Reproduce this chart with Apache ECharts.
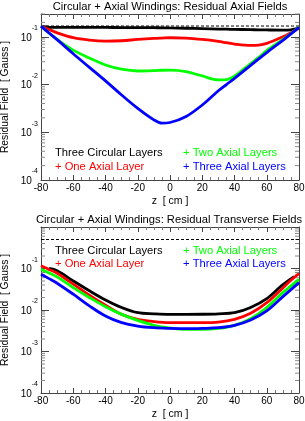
<!DOCTYPE html>
<html><head><meta charset="utf-8">
<script src="https://cdn.jsdelivr.net/npm/echarts@6/dist/echarts.min.js"></script>
<style>html,body{margin:0;padding:0;background:#fff}#c{width:305px;height:421px}</style>
</head><body><div id="c"></div>
<script>
// ---------- data ----------
const xTicks = [-80, -60, -40, -20, 0, 20, 40, 60, 80];
const yTickExponents = [-4, -3, -2, -1];

// top panel: residual axial fields
const zTop = [-80,-75,-70,-60,-50,-40,-30,-20,-10,-5,0,10,20,30,35,40,50,55,60,70,75,80];
const axBlack = [0.167,0.158,0.157,0.157,0.157,0.157,0.156,0.156,0.155,0.154,0.153,0.151,0.148,0.145,0.144,0.143,0.141,0.140,0.139,0.138,0.140,0.152];
const axRed   = [0.167,0.142,0.121,0.0955,0.0851,0.0813,0.0826,0.0879,0.0923,0.094,0.0955,0.0938,0.0879,0.080,0.075,0.0703,0.0661,0.067,0.0726,0.100,0.122,0.150];
const axGreen = [0.167,0.12,0.088,0.0525,0.036,0.0257,0.0209,0.0192,0.0195,0.0199,0.0200,0.0186,0.0151,0.0125,0.0127,0.0150,0.0275,0.037,0.0513,0.088,0.117,0.157];
const axBlue  = [0.167,0.12,0.087,0.0442,0.0229,0.0119,0.00603,0.00316,0.00182,0.00155,0.0016,0.00214,0.00372,0.0074,0.0100,0.0135,0.0251,0.0343,0.0468,0.0838,0.115,0.157];
const axRef = 0.168;

// bottom panel: residual transverse fields
const zBotBlack = [-75,-70,-60,-50,-40,-30,-20,-10,0,10,20,30,40,50,60,70,77];
const trBlack = [0.100,0.088,0.050,0.029,0.0175,0.0115,0.0086,0.0081,0.00785,0.00785,0.0079,0.0081,0.0086,0.0115,0.0188,0.041,0.064];
const zBot = [-80,-75,-70,-60,-50,-40,-30,-20,-10,0,10,20,30,40,50,60,70,75,80];
const trRed   = [0.116,0.095,0.077,0.042,0.0227,0.013,0.00785,0.00594,0.00524,0.00494,0.00494,0.00494,0.0051,0.00594,0.0083,0.015,0.034,0.052,0.0758];
const trGreen = [0.0964,0.078,0.063,0.0347,0.020,0.012,0.00785,0.0056,0.00427,0.00367,0.0034,0.0034,0.0036,0.00427,0.0062,0.0115,0.0263,0.038,0.0552];
const trBlue  = [0.073,0.057,0.0442,0.024,0.0126,0.00716,0.00494,0.0041,0.00374,0.0036,0.00354,0.0036,0.00374,0.00427,0.00575,0.0095,0.021,0.031,0.0457];
const trRef = 0.5;

const legendNames = ['Three Circular Layers', '+ One Axial Layer', '+ Two Axial Layers', '+ Three Axial Layers'];
const titles = ['Circular + Axial Windings: Residual Axial Fields', 'Circular + Axial Windings: Residual Transverse Fields'];

// ---------- styling ----------
const FONT = '"Liberation Sans", Arial, Helvetica, sans-serif';
const COLORS = ['#000000', '#ff0000', '#00ff00', '#0000ff'];
const FRAME = '#444';

// minor log ticks (2..9 x 10^n)
function minorVals(maxV) {
  const out = [];
  for (const e of yTickExponents) for (let k = 2; k <= 9; k++) {
    const v = k * Math.pow(10, e);
    if (v <= maxV * 1.0001) out.push(v);
  }
  return out;
}

const grids = [
  { left: 41, top: 14, width: 258, height: 166, containLabel: false, outerBoundsMode: 'none' },
  { left: 41, top: 227, width: 258, height: 166, containLabel: false, outerBoundsMode: 'none' }
];

function xAxes(gi) {
  const base = {
    type: 'value', gridIndex: gi, min: -80, max: 80, interval: 20,
    axisLine: { show: true, onZero: false, lineStyle: { color: FRAME, width: 1 } },
    axisTick: { show: true, inside: true, length: 5, lineStyle: { color: FRAME } },
    minorTick: { show: true, splitNumber: 4, length: 3, lineStyle: { color: '#777' } },
    splitLine: { show: false }
  };
  return [
    Object.assign({}, base, {
      position: 'bottom',
      axisLabel: { show: true, margin: 3, fontSize: 10, fontFamily: FONT, color: '#000', showMinLabel: true, showMaxLabel: true },
      name: 'z  [ cm ]', nameLocation: 'middle', nameGap: 16,
      nameTextStyle: { fontSize: 10.5, fontFamily: FONT, color: '#000' }
    }),
    Object.assign({}, base, { position: 'top', axisLabel: { show: false } })
  ];
}

function yAxes(gi, maxV) {
  const base = {
    type: 'log', logBase: 10, gridIndex: gi, min: 1e-4, max: maxV,
    axisLine: { show: true, onZero: false, lineStyle: { color: FRAME, width: 1 } },
    axisTick: { show: true, inside: true, length: 8, lineStyle: { color: FRAME } },
    splitLine: { show: false }, minorTick: { show: false }
  };
  return [
    Object.assign({}, base, {
      position: 'left',
      axisLabel: {
        show: true, margin: 3, showMinLabel: true, showMaxLabel: true,
        padding: [0, 0, 6, 0],
        formatter: function (v) {
          const l = Math.log10(v), e = Math.round(l);
          if (Math.abs(l - e) > 1e-6 || yTickExponents.indexOf(e) < 0) return '';
          return '{b|10}{s|' + e + '}';
        },
        rich: {
          b: { fontSize: 10, fontFamily: FONT, color: '#000', lineHeight: 18, verticalAlign: 'bottom' },
          s: { fontSize: 7, fontFamily: FONT, color: '#000', lineHeight: 11, verticalAlign: 'top' }
        }
      },
      name: 'Residual Field  [ Gauss ]', nameLocation: 'middle', nameGap: 26,
      nameTextStyle: { fontSize: 10.3, fontFamily: FONT, color: '#000' }
    }),
    Object.assign({}, base, { position: 'right', axisLabel: { show: false } })
  ];
}

function lineSeries(xi, yi, zs, vals, color, name) {
  return {
    type: 'line', name: name, xAxisIndex: xi, yAxisIndex: yi,
    data: zs.map((z, i) => [z, vals[i]]),
    smooth: 0.35, showSymbol: false, symbol: 'none',
    lineStyle: { color: color, width: 2.8 }, z: 3, animation: false
  };
}
function refSeries(xi, yi, v) {
  return {
    type: 'line', xAxisIndex: xi, yAxisIndex: yi,
    data: [[-80, v], [80, v]], showSymbol: false, symbol: 'none',
    lineStyle: { color: '#000', width: 1, type: [3, 2] }, z: 2, animation: false
  };
}
function minorTickSeries(xi, yi, maxV) {
  return {
    type: 'custom', xAxisIndex: xi, yAxisIndex: yi, silent: true, animation: false, z: 1,
    data: minorVals(maxV).map(v => [-80, v]),
    renderItem: function (params, api) {
      const v = api.value(1);
      const l = api.coord([-80, v]), r = api.coord([80, v]);
      return { type: 'group', children: [
        { type: 'line', shape: { x1: l[0], y1: l[1], x2: l[0] + 4, y2: l[1] }, style: { stroke: '#888', lineWidth: 1 } },
        { type: 'line', shape: { x1: r[0] - 4, y1: r[1], x2: r[0], y2: r[1] }, style: { stroke: '#888', lineWidth: 1 } }
      ]};
    }
  };
}

function txt(x, y, s, color, size, align) {
  return { type: 'text', x: x, y: y, silent: true,
    style: { text: s, fill: color, font: size + 'px ' + FONT, textAlign: align || 'left', textVerticalAlign: 'middle' } };
}

const topMax = 0.3, botMax = 1;

const option = {
  animation: false,
  backgroundColor: '#fff',
  grid: grids,
  xAxis: [].concat(xAxes(0), xAxes(1)),
  yAxis: [].concat(yAxes(0, topMax), yAxes(1, botMax)),
  series: [
    minorTickSeries(0, 0, topMax),
    refSeries(0, 0, axRef),
    lineSeries(0, 0, zTop, axBlack, COLORS[0], legendNames[0]),
    lineSeries(0, 0, zTop, axRed, COLORS[1], legendNames[1]),
    lineSeries(0, 0, zTop, axGreen, COLORS[2], legendNames[2]),
    lineSeries(0, 0, zTop, axBlue, COLORS[3], legendNames[3]),
    minorTickSeries(2, 2, botMax),
    refSeries(2, 2, trRef),
    lineSeries(2, 2, zBotBlack, trBlack, COLORS[0], legendNames[0]),
    lineSeries(2, 2, zBot, trRed, COLORS[1], legendNames[1]),
    lineSeries(2, 2, zBot, trGreen, COLORS[2], legendNames[2]),
    lineSeries(2, 2, zBot, trBlue, COLORS[3], legendNames[3])
  ],
  graphic: [
    txt(170, 6.5, titles[0], '#000', 11.2, 'center'),
    txt(169, 219.5, titles[1], '#000', 11.2, 'center'),
    txt(55, 153, legendNames[0], COLORS[0], 11.2),
    txt(55, 167, legendNames[1], COLORS[1], 11.2),
    txt(183, 153, legendNames[2], COLORS[2], 11.2),
    txt(183, 167, legendNames[3], COLORS[3], 11.2),
    txt(55, 250.5, legendNames[0], COLORS[0], 11.2),
    txt(55, 263.5, legendNames[1], COLORS[1], 11.2),
    txt(183, 250.5, legendNames[2], COLORS[2], 11.2),
    txt(183, 263.5, legendNames[3], COLORS[3], 11.2)
  ]
};

const chart = echarts.init(document.getElementById('c'), null, { renderer: 'canvas' });
chart.setOption(option);
</script></body></html>
